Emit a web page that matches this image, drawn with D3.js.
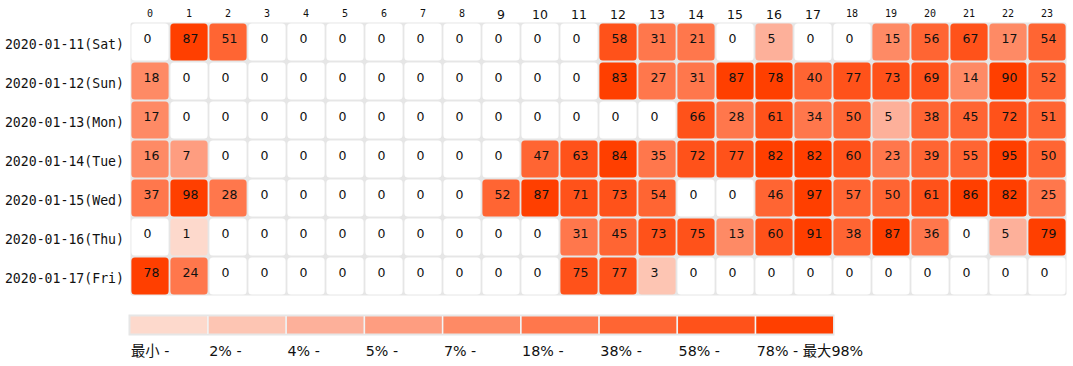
<!DOCTYPE html>
<html><head><meta charset="utf-8">
<script src="https://cdn.jsdelivr.net/npm/d3@7"></script>
<style>body{margin:0;background:#fff;}</style>
</head><body>
<svg id="c" width="1073" height="366"></svg>
<script>
const hours = ["0","1","2","3","4","5","6","7","8","9","10","11","12","13","14","15","16","17","18","19","20","21","22","23"];
const bigHours = ["9","10","11","12","13","14","15","16","17"];
const days = ["2020-01-11(Sat)","2020-01-12(Sun)","2020-01-13(Mon)","2020-01-14(Tue)","2020-01-15(Wed)","2020-01-16(Thu)","2020-01-17(Fri)"];
const sat = [0,87,51,0,0,0,0,0,0,0,0,0,58,31,21,0,5,0,0,15,56,67,17,54];
const sun = [18,0,0,0,0,0,0,0,0,0,0,0,83,27,31,87,78,40,77,73,69,14,90,52];
const mon = [17,0,0,0,0,0,0,0,0,0,0,0,0,0,66,28,61,34,50,5,38,45,72,51];
const tue = [16,7,0,0,0,0,0,0,0,0,47,63,84,35,72,77,82,82,60,23,39,55,95,50];
const wed = [37,98,28,0,0,0,0,0,0,52,87,71,73,54,0,0,46,97,57,50,61,86,82,25];
const thu = [0,1,0,0,0,0,0,0,0,0,0,31,45,73,75,13,60,91,38,87,36,0,5,79];
const fri = [78,24,0,0,0,0,0,0,0,0,0,75,77,3,0,0,0,0,0,0,0,0,0,0];
const rowsData = [sat,sun,mon,tue,wed,thu,fri];
const thresholds = [1.6,4.2,5.3,7.4,18.2,37.8,57.6,77.6];
const binColors = ["#fdd9cc","#fdc5b3","#fdb09a","#fe9d80","#fe8a65","#ff774c","#ff6533","#ff521a","#ff3f00"];
const legendLabels = ["最小 -","2% -","4% -","5% -","7% -","18% -","38% -","58% -","78% - 最大98%"];

const svg = d3.select("#c");
const x = d3.scaleBand().domain(hours).range([130.5,1066.5]);
const y = d3.scaleBand().domain(days).range([22.5,295.5]);
const color = d3.scaleThreshold().domain(thresholds).range(binColors);

const cells = [];
rowsData.forEach((r,i)=>r.forEach((v,j)=>cells.push({day:days[i],hour:hours[j],v})));

svg.append("rect").attr("x",x.range()[0]).attr("y",y.range()[0])
  .attr("width",x.range()[1]-x.range()[0]).attr("height",y.range()[1]-y.range()[0])
  .attr("fill","#e6e6e6").attr("rx",2);

const ins = 0.9;
svg.selectAll("rect.cell").data(cells).join("rect").attr("class","cell")
  .attr("x",d=>x(d.hour)+ins).attr("y",d=>y(d.day)+ins)
  .attr("width",x.bandwidth()-2*ins).attr("height",y.bandwidth()-2*ins)
  .attr("rx",3.5).attr("fill",d=>d.v===0?"#fff":color(d.v));

svg.selectAll("text.val").data(cells).join("text").attr("class","val")
  .attr("x",d=>x(d.hour)+13).attr("y",d=>y(d.day)+y.bandwidth()/2+0.5)
  .attr("font-family","DejaVu Sans").attr("font-size",12.5).attr("fill","#111")
  .text(d=>d.v);

// column headers
svg.selectAll("text.hdr").data(hours).join("text").attr("class","hdr")
  .attr("x",d=>x(d)+x.bandwidth()/2)
  .attr("y",d=>bigHours.includes(d)?18.5:16.5)
  .attr("text-anchor","middle")
  .attr("font-family",d=>bigHours.includes(d)?"DejaVu Sans":"DejaVu Sans Mono")
  .attr("font-size",d=>bigHours.includes(d)?12.5:10)
  .attr("fill","#111").text(d=>d);

// row labels
svg.selectAll("text.row").data(days).join("text").attr("class","row")
  .attr("x",124).attr("y",d=>y(d)+y.bandwidth()/2+6.5)
  .attr("text-anchor","end").attr("font-family","DejaVu Sans Mono").attr("font-size",13.2)
  .attr("fill","#111").text(d=>d);

// legend
const lx = d3.scaleBand().domain(d3.range(binColors.length)).range([129.5,833.5]);
svg.append("rect").attr("x",lx.range()[0]-1).attr("y",314.5).attr("width",lx.range()[1]-lx.range()[0]+2).attr("height",21)
  .attr("fill","#e6e6e6");
svg.selectAll("rect.lg").data(binColors).join("rect").attr("class","lg")
  .attr("x",(d,i)=>lx(i)+1).attr("y",316.5).attr("width",lx.bandwidth()-1.5).attr("height",17)
  .attr("fill",d=>d);
svg.selectAll("rect.sep").data(binColors.slice(1)).join("rect").attr("class","sep")
  .attr("x",(d,i)=>lx(i+1)-0.5).attr("y",316).attr("width",1.2).attr("height",18).attr("fill","#f4f4f4");
svg.selectAll("text.lgl").data(legendLabels).join("text").attr("class","lgl")
  .attr("x",(d,i)=>lx(i)+1.5).attr("y",355.5)
  .attr("font-family","DejaVu Sans, 'Noto Sans CJK SC'").attr("font-size",14.3)
  .attr("fill","#111").text(d=>d);
</script>
</body></html>
